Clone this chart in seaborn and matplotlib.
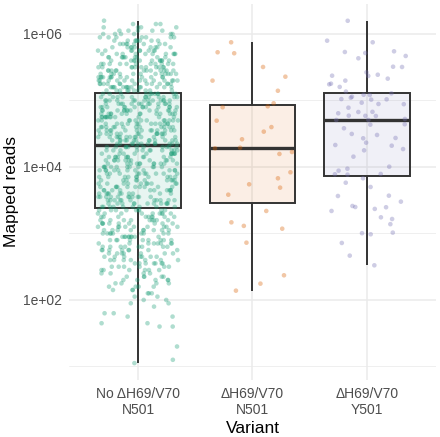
import numpy as np
import pandas as pd
import matplotlib
matplotlib.use("Agg")
import matplotlib.pyplot as plt
from matplotlib.colors import to_rgba
from matplotlib.ticker import FixedLocator, NullFormatter
import seaborn as sns

# categories and colours (Dark2)
variants = ["No ΔH69/V70\nN501", "ΔH69/V70\nN501", "ΔH69/V70\nY501"]
variant_colors = ["#1B9E77", "#D95F02", "#7570B3"]

# group 1 is too dense to read point by point: log10(reads) levels read off the
# picture, with the number of points seen at each level
g1_log10_levels = [6.20, 6.15, 6.10, 6.05, 6.00, 5.95, 5.90, 5.85, 5.80, 5.75, 5.70,
                   5.65, 5.60, 5.55, 5.50, 5.45, 5.40, 5.35, 5.30, 5.25, 5.20, 5.15,
                   5.10, 5.05, 5.00, 4.95, 4.90, 4.85, 4.80, 4.75, 4.70, 4.65, 4.60,
                   4.55, 4.50, 4.45, 4.40, 4.35,
                   4.30, 4.25, 4.20, 4.15, 4.10, 4.05, 4.00, 3.95, 3.90, 3.85, 3.80,
                   3.75, 3.70, 3.65, 3.60, 3.55, 3.50, 3.45, 3.40,
                   3.35, 3.30, 3.25, 3.20, 3.15, 3.10, 3.05, 3.00, 2.95, 2.90,
                   2.85, 2.80, 2.75, 2.70, 2.65, 2.60, 2.55, 2.50, 2.45, 2.40,
                   2.35, 2.30, 2.25, 2.20, 2.15, 2.10, 2.05, 2.00, 1.95,
                   1.90, 1.80, 1.75, 1.65, 1.60, 1.30, 1.10, 1.05]
g1_counts = [1, 3, 4, 5, 6, 7, 8, 8, 9, 9, 10,
             10, 11, 11, 11, 12, 12, 13, 13, 13, 14, 10,
             11, 12, 13, 13, 13, 13, 13, 12, 12, 12, 12,
             13, 13, 13, 13, 12,
             11, 11, 11, 11, 11, 11, 11, 11, 10, 10, 10,
             10, 10, 10, 10, 11, 11, 11, 9,
             9, 9, 9, 9, 9, 9, 9, 9, 9, 9,
             8, 8, 8, 7, 7, 7, 7, 6, 6, 4,
             5, 5, 4, 4, 3, 3, 2, 2, 2,
             1, 2, 2, 2, 2, 1, 1, 1]

g2_reads = [750000, 531000, 513000, 319000, 228000, 199000, 140000, 90800, 81800,
            79100, 49700, 39800, 34000, 26100, 19500, 19100, 16800, 15700, 8320,
            6760, 5490, 4890, 3830, 2180, 1470, 1300, 1180, 727, 235, 176, 138]

g3_reads = [1580000, 793000, 750000, 549000, 536000, 518000, 467000, 431000, 319000,
            322000, 265000, 244000, 236000, 234000, 213000, 199000, 179000, 175000,
            160000, 136000, 128000, 122000, 121000, 114000, 110000, 103000, 104000,
            105000, 92700, 88600, 88000, 77900, 67100, 67500, 64200, 58400, 52700,
            59100, 58800, 50900, 51000, 43900, 43300, 38200, 31400, 30300, 27300,
            27000, 23200, 20900, 21400, 18600, 17800, 14300, 10100, 9420, 8800, 7660,
            7850, 7770, 6760, 5800, 5000, 3660, 3700, 3010, 2590, 2500, 2340, 2480,
            2180, 1750, 1650, 1380, 1010, 1030, 973, 720, 464, 332]

y_major = [1e2, 1e4, 1e6]
y_major_labels = ["1e+02", "1e+04", "1e+06"]
y_minor = [1e1, 1e3, 1e5]

g1_reads = 10 ** np.repeat(g1_log10_levels, g1_counts)
df = pd.DataFrame({
    "Variant": [variants[0]] * len(g1_reads) + [variants[1]] * len(g2_reads)
               + [variants[2]] * len(g3_reads),
    "Mapped reads": np.concatenate([g1_reads, g2_reads, g3_reads]),
})

sns.set_theme(style="white")
plt.rcParams["font.family"] = ["Liberation Sans", "DejaVu Sans"]

fig, ax = plt.subplots(figsize=(4.4, 4.37), dpi=100)
fig.subplots_adjust(left=0.1575, right=0.990, top=0.991, bottom=0.1304)
ax.set_yscale("log")

np.random.seed(7)
sns.stripplot(data=df, x="Variant", y="Mapped reads", hue="Variant",
              order=variants, hue_order=variants, palette=variant_colors,
              jitter=0.35, size=3.3, alpha=0.35, linewidth=0, legend=False,
              log_scale=True, ax=ax)
sns.boxplot(data=df, x="Variant", y="Mapped reads", hue="Variant",
            order=variants, hue_order=variants, palette=variant_colors,
            saturation=1, width=0.75, linecolor="#333333", linewidth=1.4,
            showfliers=False, whis=1.5, legend=False, log_scale=True,
            medianprops={"linewidth": 2.4}, capprops={"visible": False}, ax=ax)
for patch in ax.patches:
    patch.set_facecolor(to_rgba(patch.get_facecolor(), 0.1))

ax.set_xlim(-0.6, 2.6)
ax.set_ylim(10 ** 0.796, 10 ** 6.452)
ax.yaxis.set_major_locator(FixedLocator(y_major))
ax.set_yticks(y_major, y_major_labels)
ax.yaxis.set_minor_locator(FixedLocator(y_minor))
ax.yaxis.set_minor_formatter(NullFormatter())
ax.grid(which="major", color="#EBEBEB", linewidth=1.1)
ax.grid(which="minor", axis="y", color="#EBEBEB", linewidth=0.55)
ax.set_axisbelow(True)
for s in ax.spines.values():
    s.set_visible(False)
ax.tick_params(which="both", length=0, labelsize=10, labelcolor="#4D4D4D", pad=5)
ax.set_xlabel("Variant", fontsize=12.5, color="black", labelpad=3)
ax.set_ylabel("Mapped reads", fontsize=12.5, color="black", labelpad=3)

fig.savefig("out.png", dpi=100)
